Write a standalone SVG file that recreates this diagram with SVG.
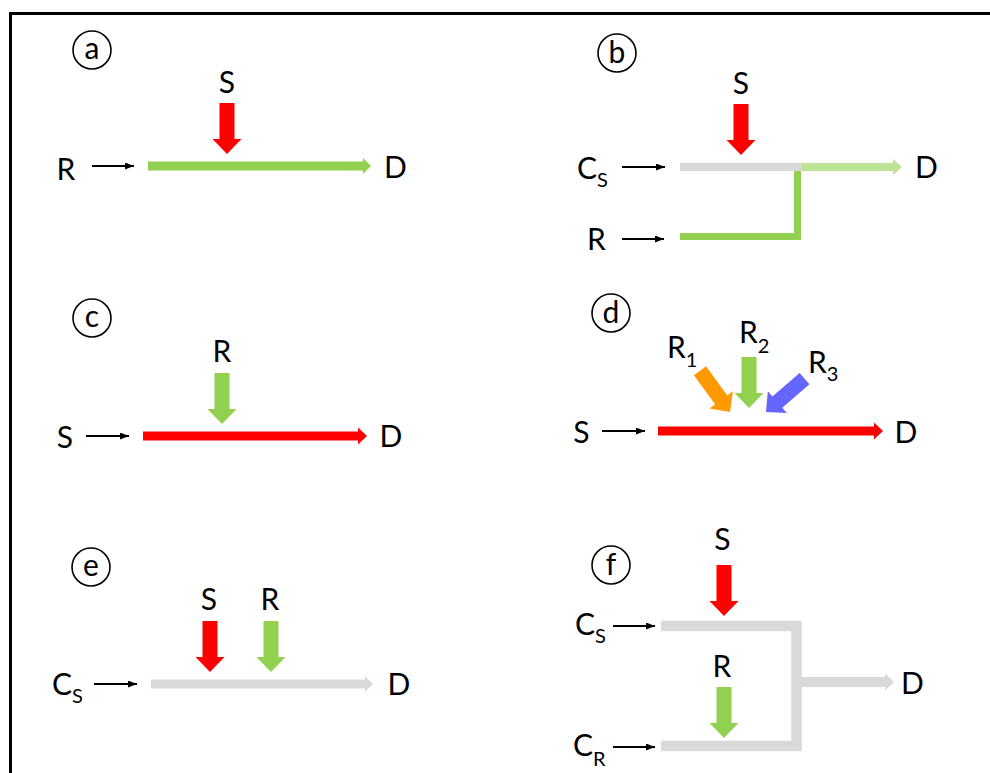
<svg xmlns="http://www.w3.org/2000/svg" width="990" height="773" viewBox="0 0 990 773">
<defs>
<style>
.t{font-family:Lato,"Open Sans","Liberation Sans",sans-serif;font-size:30px;fill:#000}
.m{text-anchor:middle}
.sub{font-size:20px}
.cl{font-family:Lato,"Open Sans","Liberation Sans",sans-serif;font-size:30px;fill:#000;text-anchor:middle}
.circ{fill:none;stroke:#000;stroke-width:1.6}
.thin{stroke:#000;stroke-width:2;fill:none;marker-end:url(#ah)}
.red{fill:#ff0000}
.grn{fill:#92d050}
.gry{fill:#d9d9d9}
.lgr{fill:#bde396}
.org{fill:#ff9900}
.blu{fill:#6666ff}
</style>
<marker id="ah" markerUnits="userSpaceOnUse" markerWidth="10" markerHeight="8" refX="9" refY="3.5" orient="auto">
<path d="M0,0 L9,3.5 L0,7 Z" fill="#000"/>
</marker>
<path id="blk" d="M-7.5,-51 H7.5 V-15 H14.5 L0,0 L-14.5,-15 H-7.5 Z"/>
</defs>
<rect x="10.5" y="13.5" width="1000" height="800" fill="#fff" stroke="#000" stroke-width="3"/>

<g id="connectors">
<!-- small black input arrows -->
<line class="thin" x1="92" y1="166" x2="134" y2="166"/>
<line class="thin" x1="622" y1="167" x2="665" y2="167"/>
<line class="thin" x1="622" y1="239" x2="664" y2="239"/>
<line class="thin" x1="86" y1="436" x2="129" y2="436"/>
<line class="thin" x1="602" y1="431" x2="645" y2="431"/>
<line class="thin" x1="94" y1="684" x2="137" y2="684"/>
<line class="thin" x1="613" y1="626" x2="655" y2="626"/>
<line class="thin" x1="613" y1="747" x2="655" y2="747"/>

<!-- panel a -->
<path class="grn" d="M148,161.5 H363 V158 L371,166 L363,174 V170.5 H148 Z"/>
<use href="#blk" class="red" transform="translate(227,154)"/>

<!-- panel b -->
<rect class="gry" x="680" y="163" width="121" height="8"/>
<path class="lgr" d="M801,163 H893 V159 L902,167 L893,175 V171 H801 Z"/>
<path d="M680,236.5 H797.5 V171" fill="none" stroke="#92d050" stroke-width="7" stroke-linejoin="miter"/>
<use href="#blk" class="red" transform="translate(741,155)"/>

<!-- panel c -->
<path class="red" d="M143,431.5 H358 V427.5 L367,436 L358,444.5 V440.5 H143 Z"/>
<use href="#blk" class="grn" transform="translate(222,424)"/>

<!-- panel d -->
<path class="red" d="M658,426.5 H874 V422.5 L883,431 L874,439.5 V435.5 H658 Z"/>
<use href="#blk" class="org" transform="translate(730,412) rotate(-36)"/>
<use href="#blk" class="grn" transform="translate(749,408)"/>
<use href="#blk" class="blu" transform="translate(766,412) rotate(49)"/>

<!-- panel e -->
<path class="gry" d="M151,679.5 H365 V676 L373,684 L365,692 V688.5 H151 Z"/>
<use href="#blk" class="red" transform="translate(210,672)"/>
<use href="#blk" class="grn" transform="translate(271,672)"/>

<!-- panel f -->
<path d="M661,626 H796.5 V746 H661" fill="none" stroke="#d9d9d9" stroke-width="10.5" stroke-linejoin="miter"/>
<path class="gry" d="M801,677 H885 V673.5 L894,682 L885,690.5 V687 H801 Z"/>
<use href="#blk" class="red" transform="translate(724,616)"/>
<use href="#blk" class="grn" transform="translate(724,738)"/>
</g>

<g id="panel-a">
<g id="a-label"><circle class="circ" cx="92" cy="50" r="19"/><text class="cl" x="92" y="59">a</text></g>
<g id="a-R"><text class="t m" x="66" y="180">R</text></g>
<g id="a-S"><text class="t m" x="227" y="93">S</text></g>
<g id="a-D"><text class="t m" x="395.5" y="178">D</text></g>
</g>

<g id="panel-b">
<g id="b-label"><circle class="circ" cx="617" cy="53" r="19"/><text class="cl" x="617" y="62.5">b</text></g>
<g id="b-S"><text class="t m" x="741" y="94">S</text></g>
<g id="b-Cs"><text class="t" x="577" y="179">C<tspan class="sub" dy="8">S</tspan></text></g>
<g id="b-R"><text class="t m" x="596.5" y="250">R</text></g>
<g id="b-D"><text class="t m" x="926.5" y="178">D</text></g>
</g>

<g id="panel-c">
<g id="c-label"><circle class="circ" cx="92" cy="318" r="19"/><text class="cl" x="92" y="327">c</text></g>
<g id="c-R"><text class="t m" x="222" y="362">R</text></g>
<g id="c-S"><text class="t m" x="65" y="448">S</text></g>
<g id="c-D"><text class="t m" x="391" y="447">D</text></g>
</g>

<g id="panel-d">
<g id="d-label"><circle class="circ" cx="611" cy="313" r="19"/><text class="cl" x="611" y="322.5">d</text></g>
<g id="d-R1"><text class="t" x="667" y="358">R<tspan class="sub" dy="9">1</tspan></text></g>
<g id="d-R2"><text class="t" x="739" y="343">R<tspan class="sub" dy="10">2</tspan></text></g>
<g id="d-R3"><text class="t" x="808" y="373">R<tspan class="sub" dy="8">3</tspan></text></g>
<g id="d-S"><text class="t m" x="581.5" y="443">S</text></g>
<g id="d-D"><text class="t m" x="906" y="443">D</text></g>
</g>

<g id="panel-e">
<g id="e-label"><circle class="circ" cx="91" cy="567" r="19"/><text class="cl" x="91" y="576">e</text></g>
<g id="e-S"><text class="t m" x="209" y="610">S</text></g>
<g id="e-R"><text class="t m" x="270" y="610">R</text></g>
<g id="e-Cs"><text class="t" x="52" y="695">C<tspan class="sub" dy="8">S</tspan></text></g>
<g id="e-D"><text class="t m" x="399" y="695">D</text></g>
</g>

<g id="panel-f">
<g id="f-label"><circle class="circ" cx="611" cy="565" r="19"/><text class="cl" x="611" y="575">f</text></g>
<g id="f-S"><text class="t m" x="722.5" y="550">S</text></g>
<g id="f-Cs"><text class="t" x="575" y="635">C<tspan class="sub" dy="8">S</tspan></text></g>
<g id="f-R"><text class="t m" x="722" y="677">R</text></g>
<g id="f-CR"><text class="t" x="573" y="756">C<tspan class="sub" dy="10">R</tspan></text></g>
<g id="f-D"><text class="t m" x="912.5" y="694">D</text></g>
</g>
</svg>
